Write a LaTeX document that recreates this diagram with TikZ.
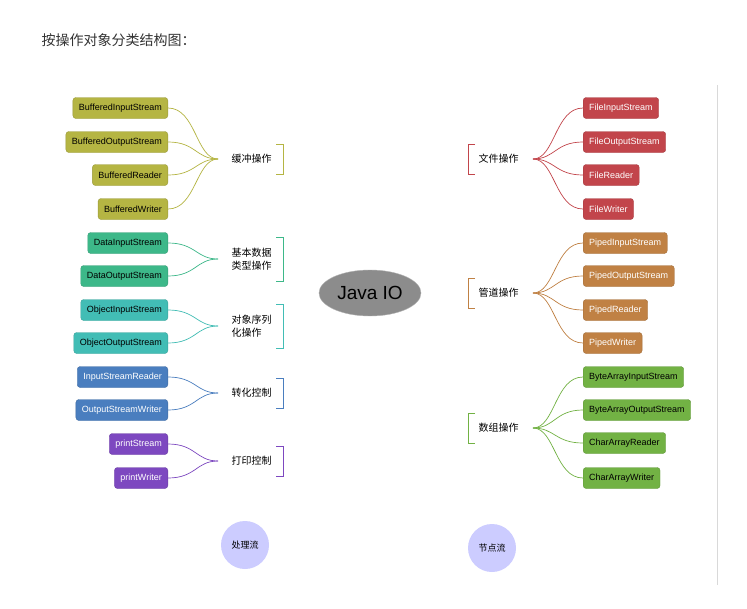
\documentclass[tikz,border=0pt]{standalone}
\usepackage{fontspec}
\setmainfont{Liberation Sans}
\newfontfamily\cjk{Noto Sans CJK SC}
\usetikzlibrary{backgrounds,shapes.geometric}

\definecolor{cbuf}{HTML}{B5B543}
\definecolor{cdat}{HTML}{3DB889}
\definecolor{cobj}{HTML}{42BDB5}
\definecolor{ccvt}{HTML}{4A7EBF}
\definecolor{cprt}{HTML}{7D48C0}
\definecolor{cfil}{HTML}{C2454B}
\definecolor{cpip}{HTML}{C08144}
\definecolor{carr}{HTML}{72B244}

\tikzset{
  box/.style={rounded corners=3pt, fill=#1, draw=#1!85!black, minimum height=21pt, inner xsep=6pt, font=\fontsize{9}{9}\selectfont},
  cat/.style={font=\cjk\fontsize{10}{13}\selectfont, align=left},
  fan/.style={draw=#1, line width=0.7pt},
  branch/.style={draw=#1, line width=3.5pt, line cap=round},
  bubble/.style={circle, fill=#1, minimum size=48pt, font=\cjk\fontsize{9}{9}\selectfont}
}

\begin{document}
\begin{tikzpicture}[x=1pt, y=-1pt, background rectangle/.style={fill=white}, show background rectangle]
\useasboundingbox (0,0) rectangle (747,608);

% title and frame line
\node[anchor=west, font=\cjk\fontsize{14}{14}\selectfont, text=black!80] (title) at (38,40) {按操作对象分类结构图：};
\draw[black!15, line width=1pt] (717,85) -- (717,585);

% centre
\node[ellipse, fill=black!45, draw=black!30, minimum width=92pt, minimum height=46pt, font=\fontsize{19}{19}\selectfont] (jv) at (370,293) {Java IO};

% left categories: name/y/half height/colour/label
\foreach \n/\y/\h/\c/\t in {buf/159/15/cbuf/缓冲操作, dat/259/22/cdat/基本数据\\类型操作, obj/326/22/cobj/对象序列\\化操作, cvt/393/15/ccvt/转化控制, prt/461/15/cprt/打印控制}{
  \node[cat, anchor=west] (\n) at (228,\y) {\t};
  \coordinate (\n m) at (218,\y);
  \coordinate (\n b) at (283,\y);
  \draw[\c, line width=0.8pt] (276,\y-\h) -- (283,\y-\h) -- (283,\y+\h) -- (276,\y+\h);
}

% right categories
\foreach \n/\y/\c/\t in {fil/159/cfil/文件操作, pip/293/cpip/管道操作, arr/428/carr/数组操作}{
  \node[cat, anchor=west] (\n) at (475,\y) {\t};
  \coordinate (\n m) at (533,\y);
  \coordinate (\n b) at (468,\y);
  \draw[\c, line width=0.8pt] (475,\y-15) -- (468,\y-15) -- (468,\y+15) -- (475,\y+15);
}

% branches
\begin{scope}[on background layer]
\draw[branch=cbuf] (bufb) .. controls (310,159) and (320,190) .. (jv.120);
\draw[branch=cdat] (datb) .. controls (310,259) and (320,262) .. (jv.170);
\draw[branch=cobj] (objb) .. controls (310,326) and (320,318) .. (jv.190);
\draw[branch=ccvt] (cvtb) .. controls (310,393) and (320,360) .. (jv.230);
\draw[branch=cprt] (prtb) .. controls (310,461) and (322,400) .. (jv.245);
\draw[branch=cfil] (filb) .. controls (440,159) and (420,190) .. (jv.60);
\draw[branch=cpip] (pipb) -- (jv.east);
\draw[branch=carr] (arrb) .. controls (440,428) and (420,400) .. (jv.300);
\end{scope}

% left leaves: name/y/colour/text colour/parent/label
\foreach \n/\y/\c/\f/\p/\t in {
  bis/108/cbuf/black/buf/BufferedInputStream, bos/142/cbuf/black/buf/BufferedOutputStream,
  brd/175/cbuf/black/buf/BufferedReader, bwr/209/cbuf/black/buf/BufferedWriter,
  dis/243/cdat/black/dat/DataInputStream, dos/276/cdat/black/dat/DataOutputStream,
  ois/310/cobj/black/obj/ObjectInputStream, oos/343/cobj/black/obj/ObjectOutputStream,
  isr/377/ccvt/white/cvt/InputStreamReader, osw/410/ccvt/white/cvt/OutputStreamWriter,
  pst/444/cprt/white/prt/printStream, pwr/478/cprt/white/prt/printWriter}{
  \node[box=\c, text=\f, anchor=east] (\n) at (168,\y) {\t};
  \draw[fan=\c] (\n.east) .. controls +(28,0) and +(-22,0) .. (\p m);
}

% right leaves
\foreach \n/\y/\c/\f/\p/\t in {
  fis/108/cfil/white/fil/FileInputStream, fos/142/cfil/white/fil/FileOutputStream,
  frd/175/cfil/white/fil/FileReader, fwr/209/cfil/white/fil/FileWriter,
  pis/243/cpip/white/pip/PipedInputStream, pos/276/cpip/white/pip/PipedOutputStream,
  prd/310/cpip/white/pip/PipedReader, pwt/343/cpip/white/pip/PipedWriter,
  bai/377/carr/black/arr/ByteArrayInputStream, bao/410/carr/black/arr/ByteArrayOutputStream,
  car/443/carr/black/arr/CharArrayReader, caw/478/carr/black/arr/CharArrayWriter}{
  \node[box=\c, text=\f, anchor=west] (\n) at (583,\y) {\t};
  \draw[fan=\c] (\n.west) .. controls +(-28,0) and +(22,0) .. (\p m);
}

% stream kinds
\node[bubble={blue!20}] (proc) at (245,545) {处理流};
\node[bubble={blue!20}] (node) at (492,548) {节点流};
\end{tikzpicture}
\end{document}
